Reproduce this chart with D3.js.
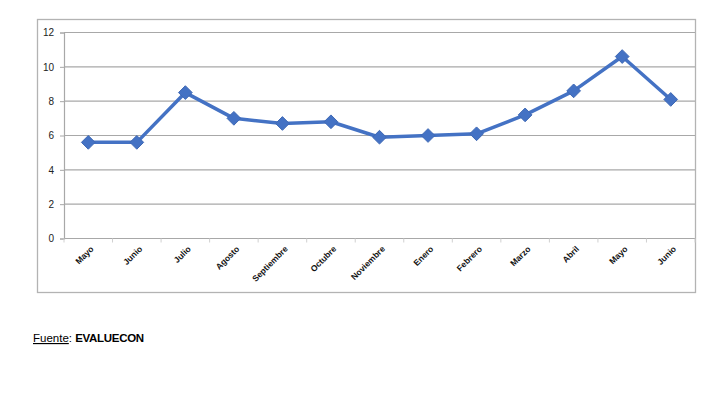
<!DOCTYPE html>
<html>
<head>
<meta charset="utf-8">
<script src="https://cdn.jsdelivr.net/npm/d3@7"></script>
<style>
  body { margin: 0; background: #fff; font-family: "Liberation Sans", Arial, sans-serif; }
</style>
</head>
<body>
<div id="chart-area"></div>
<script>
// categories and values
const months = ["Mayo", "Junio", "Julio", "Agosto", "Septiembre", "Octubre", "Noviembre",
  "Enero", "Febrero", "Marzo", "Abril", "Mayo", "Junio"]
const values = [5.6, 5.6, 8.5, 7.0, 6.7, 6.8, 5.9, 6.0, 6.1, 7.2, 8.6, 10.6, 8.1]
const yTicks = [0, 2, 4, 6, 8, 10, 12]

const W = 728, H = 393
const PLOT = {LEFT: 64, RIGHT: 695, TOP: 32.5, BOTTOM: 238.5}

const svg = d3.select("#chart-area").append("svg")
  .attr("width", W)
  .attr("height", H)

// outer frame
svg.append("rect")
  .attr("x", 37.5).attr("y", 19.5)
  .attr("width", 658).attr("height", 273)
  .attr("fill", "none")
  .attr("stroke", "#b3b3b3")
  .attr("stroke-width", 1.3)

const data = values.map((v, i) => ({i, month: months[i], value: v}))

const x = d3.scaleBand()
  .domain(d3.range(months.length))
  .range([PLOT.LEFT, PLOT.RIGHT])

const y = d3.scaleLinear()
  .domain([0, 12])
  .range([PLOT.BOTTOM, PLOT.TOP])

// gridlines
svg.append("g")
  .selectAll("line").data(yTicks).enter().append("line")
  .attr("x1", PLOT.LEFT).attr("x2", PLOT.RIGHT)
  .attr("y1", d => y(d)).attr("y2", d => y(d))
  .attr("stroke", "#a8a8a8")
  .attr("stroke-width", 1.2)

// y axis
const yAxis = svg.append("g")
  .attr("transform", `translate(${PLOT.LEFT}, 0)`)
  .call(d3.axisLeft(y).tickValues(yTicks).tickSize(4).tickPadding(6))
yAxis.select(".domain").attr("stroke", "#a8a8a8").attr("stroke-width", 1.2)
yAxis.selectAll(".tick line").attr("stroke", "#a8a8a8")
yAxis.selectAll("text")
  .attr("font-size", "10px")
  .attr("font-family", "Liberation Sans, Arial, sans-serif")
  .attr("fill", "#222")

// x axis
const xAxis = svg.append("g")
  .attr("transform", `translate(0, ${PLOT.BOTTOM})`)
  .call(d3.axisBottom(x).tickSize(0).tickFormat(i => months[i]))
xAxis.select(".domain").remove()
xAxis.selectAll("text")
  .attr("font-size", "8.5px")
  .attr("font-weight", "bold")
  .attr("font-family", "Liberation Sans, Arial, sans-serif")
  .attr("fill", "#111")
  .attr("text-anchor", "end")
  .attr("x", 6)
  .attr("y", 11)
  .attr("dy", 0)
  .attr("transform", "rotate(-45, 6, 11)")

// small category tick marks
svg.append("g")
  .selectAll("line").data(d3.range(months.length + 1)).enter().append("line")
  .attr("x1", i => PLOT.LEFT + i * x.step())
  .attr("x2", i => PLOT.LEFT + i * x.step())
  .attr("y1", PLOT.BOTTOM).attr("y2", PLOT.BOTTOM + 4)
  .attr("stroke", "#d0d0d0")

const cx = d => x(d.i) + x.bandwidth() / 2

// line
svg.append("path")
  .datum(data)
  .attr("fill", "none")
  .attr("stroke", "#4472c4")
  .attr("stroke-width", 3.5)
  .attr("stroke-linejoin", "round")
  .attr("d", d3.line().x(cx).y(d => y(d.value)))

// diamond markers
svg.append("g")
  .selectAll("path").data(data).enter().append("path")
  .attr("d", d3.symbol(d3.symbolDiamond2, 120))
  .attr("transform", d => `translate(${cx(d)}, ${y(d.value)})`)
  .attr("fill", "#4472c4")
  .attr("stroke", "#3f69b5")
  .attr("stroke-width", 1)

// source note
const note = svg.append("text")
  .attr("x", 33)
  .attr("y", 342)
  .attr("font-size", "11.5px")
  .attr("font-family", "Liberation Sans, Arial, sans-serif")
  .attr("fill", "#000")
note.append("tspan").attr("text-decoration", "underline").text("Fuente")
note.append("tspan").text(": ")
note.append("tspan").attr("font-weight", "bold").attr("letter-spacing", "-0.3").text("EVALUECON")
</script>
</body>
</html>
